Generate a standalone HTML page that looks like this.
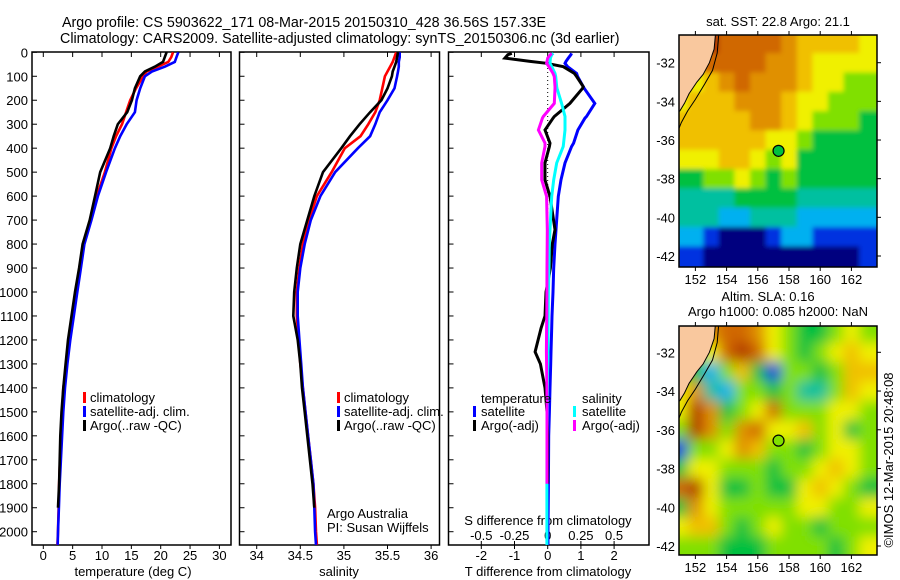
<!DOCTYPE html>
<html><head><meta charset="utf-8">
<style>
html,body{margin:0;padding:0;background:#fff;}
svg{display:block;font-family:"Liberation Sans",sans-serif;}
text{fill:#000;}
</style></head>
<body>
<svg id="chart" width="900" height="580" viewBox="0 0 900 580" xmlns="http://www.w3.org/2000/svg">
<defs>
<clipPath id="c1"><rect x="32" y="52" width="199" height="493"/></clipPath>
<clipPath id="c2"><rect x="239" y="52" width="200" height="493"/></clipPath>
<clipPath id="c3"><rect x="448" y="52" width="201" height="493"/></clipPath>
<clipPath id="cm1"><rect x="679" y="35" width="198" height="232"/></clipPath>
<clipPath id="cm2"><rect x="679" y="326" width="198" height="229"/></clipPath>
<filter id="blur" x="-10%" y="-10%" width="120%" height="120%"><feGaussianBlur stdDeviation="6.5"/></filter>
<filter id="blur2" x="-10%" y="-10%" width="120%" height="120%"><feGaussianBlur stdDeviation="2.5"/></filter>
</defs>
<text x="62" y="27" font-size="14.3">Argo profile: CS 5903622_171 08-Mar-2015 20150310_428 36.56S 157.33E</text>
<text x="60" y="43" font-size="14.3">Climatology: CARS2009. Satellite-adjusted climatology: synTS_20150306.nc (3d earlier)</text>
<g id="layer"></g>
</svg>
<script>
// ---------- data ----------
const depthTicks = [0,100,200,300,400,500,600,700,800,900,1000,1100,1200,1300,1400,1500,1600,1700,1800,1900,2000];
const tempTicks = [0,5,10,15,20,25,30];
const salTicks = [34,34.5,35,35.5,36];
const salTickLabels = ["34","34.5","35","35.5","36"];
const dTTicks = [-2,-1,0,1,2];
const dSTicks = [-0.5,-0.25,0,0.25,0.5];
const dSTickLabels = ["-0.5","-0.25","0","0.25","0.5"];

const depthClim = [0,20,40,60,80,100,150,200,250,300,350,400,500,600,700,800,900,1000,1100,1200,1300,1400,1500,1600,1700,1800,1900,2000,2055];
const tempClim = [22.1,21.8,21.3,19.5,17.6,17.0,15.8,14.8,14.1,13.4,12.4,11.6,10.5,9.1,8.0,6.8,6.2,5.6,5.0,4.4,4.0,3.4,3.2,3.0,2.85,2.7,2.6,2.5,2.4];
const tempSat = [23.0,22.7,22.4,20.7,18.5,17.3,16.5,15.9,15.6,14.2,13.1,12.2,10.7,9.3,8.2,7.0,6.4,5.8,5.2,4.6,4.1,3.7,3.4,3.2,3.0,2.8,2.65,2.5,2.45];
const tempArgo = [21.0,20.7,20.4,19.0,17.3,16.5,15.6,15.1,14.3,12.7,12.0,11.4,9.7,8.8,7.9,6.7,6.1,5.4,4.8,4.2,3.8,3.4,3.1,2.9,2.8,2.7,2.5,null,null];
const salClim = [35.6,35.58,35.56,35.53,35.5,35.47,35.44,35.41,35.36,35.28,35.19,35.01,34.86,34.69,34.6,34.53,34.49,34.46,34.46,34.48,34.5,34.53,34.56,34.59,34.62,34.65,34.67,34.68,34.69];
const salSat = [35.64,35.64,35.63,35.63,35.62,35.61,35.58,35.5,35.41,35.36,35.3,35.16,34.9,34.73,34.62,34.55,34.5,34.47,34.47,34.49,34.51,34.53,34.56,34.59,34.62,34.65,34.66,34.67,34.68];
const salArgo = [35.62,35.61,35.6,35.58,35.56,35.55,35.5,35.43,35.3,35.18,35.07,34.97,34.76,34.66,34.58,34.5,34.46,34.43,34.42,34.47,34.5,34.52,34.55,34.58,34.61,34.64,34.66,null,null];

const depthDiff = [4,10,24,38,46,60,88,101,143,150,213,268,275,324,379,393,462,532,601,740,800,900,1000,1100,1150,1250,1300,1400,1500,1600,1800,2000,2055];
const dTSat = [0.72,0.7,0.62,0.55,0.52,0.6,0.87,0.9,1.07,1.1,1.42,1.17,1.12,0.91,0.78,0.72,0.52,0.4,0.32,0.25,0.22,0.18,0.16,0.13,0.12,0.1,0.09,0.07,0.05,0.03,0.02,0.01,0.01];
const dTArgo = [-1.08,-1.2,-1.29,-0.53,-0.03,0.47,0.8,0.87,1.07,1.05,0.67,0.2,0.16,-0.08,0.07,0.05,-0.08,-0.08,0.07,0.22,0.14,0.08,-0.05,-0.08,-0.2,-0.38,-0.22,-0.08,-0.02,0,0,null,null];
const dSSat = [0.042,0.03,0.02,0.018,0.017,0.03,0.055,0.06,0.068,0.07,0.105,0.13,0.13,0.13,0.12,0.117,0.068,0.045,0.03,0.017,0.012,0.01,0.005,0.004,0.003,0.002,0.0,-0.002,-0.004,-0.005,-0.006,-0.006,-0.006];
const dSArgo = [0.03,0.02,0.0,-0.005,-0.008,0.01,0.04,0.05,0.055,0.055,0.05,-0.033,-0.04,-0.07,-0.02,-0.02,-0.045,-0.045,-0.008,-0.003,-0.004,-0.005,-0.006,-0.007,-0.008,-0.01,-0.008,-0.006,-0.005,-0.005,-0.005,null,null];

const mapLons = [151,152,153,154,155,156,157,158,159,160,161,162,163];
const mapLats = [-31,-32,-33,-34,-35,-36,-37,-38,-39,-40,-41,-42];
const sstGrid = [
 [9,9,10,9,9,9,9,8,7,7,7,7,6],
 [7,7,9,9,9,9,8,8,7,6,6,6,6],
 [6,6,7,8,9,8,8,8,7,6,6,5,5],
 [6,7,7,7,8,8,8,7,6,6,5,5,5],
 [7,7,7,7,7,8,8,7,6,5,5,5,4],
 [7,7,7,7,7,7,6,6,5,4,4,4,4],
 [6,6,6,7,7,6,5,6,4,4,4,4,4],
 [4,4,5,5,6,5,4,5,4,4,4,4,4],
 [3,3,3,3,4,4,4,4,3,3,3,3,3],
 [3,3,3,2,2,3,3,3,2,2,2,2,2],
 [2,2,1,0,0,0,1,2,2,1,1,1,1],
 [1,1,0,0,0,0,0,0,0,0,0,0,1]];
const slaGrid = [
 [5,5,8,9,9,8,6,5,4,4,5,6,5],
 [5,5,6,9,10,9,6,5,4,5,6,7,6],
 [5,4,2,5,7,4,1,5,5,4,5,7,7],
 [6,8,3,2,5,5,4,5,3,3,5,7,6],
 [6,10,8,4,5,6,9,5,5,5,6,6,5],
 [5,10,8,5,8,9,6,6,7,5,6,4,5],
 [1,5,5,6,8,7,5,5,4,5,6,6,5],
 [4,6,6,5,5,5,4,5,5,6,7,6,5],
 [9,10,6,4,4,5,4,4,6,7,6,5,4],
 [4,8,6,5,5,5,5,5,6,6,5,5,6],
 [6,7,7,5,4,5,6,5,5,4,5,5,5],
 [5,5,5,4,4,4,5,5,5,5,4,5,6]];
const lonTicks = [152,154,156,158,160,162];
const latTicks = [-32,-34,-36,-38,-40,-42];
const argoLon = 157.33, argoLat = -36.56;

// ---------- helpers ----------
const NS = "http://www.w3.org/2000/svg";
const layer = document.getElementById('layer');
function mk(tag, attrs, parent) {
  const e = document.createElementNS(NS, tag);
  for (const k in attrs) e.setAttribute(k, attrs[k]);
  (parent || layer).appendChild(e);
  return e;
}
const yD = d => 52.3 + d * 0.2397;
const xT = t => 43.3 + t * 5.87;
const xS = s => 256.7 + (s - 34) * 87.2;
const xdT = v => 547.7 + v * 33.2;
const xdS = v => 547.7 + v * 132.8;

function drawPanel(x0, w, name) {
  const g = mk('g', {});
  
  
  const r = mk('rect', {x: x0, y: 52, width: w, height: 493, fill: 'none', stroke: '#000', 'stroke-width': 1.5}, g);
  
  
  depthTicks.forEach(d => {
    mk('line', {x1: x0, x2: x0 + 5, y1: yD(d), y2: yD(d), stroke: '#000'}, g);
  });
  return g;
}
function stepLine(xs, ds, xf, color, name, clip, sw) {
  let p = '';
  let started = false;
  for (let i = 0; i < ds.length; i++) {
    if (xs[i] === null) continue;
    const x = xf(xs[i]), y = yD(ds[i]);
    p += (started ? 'L' : 'M') + x.toFixed(1) + ' ' + y.toFixed(1);
    started = true;
  }
  const e = mk('path', {d: p, fill: 'none', stroke: color, 'stroke-width': sw || 2.6, 'clip-path': 'url(#' + clip + ')'});
  
  
  return e;
}
function txt(x, y, s, size, anchor, name) {
  const e = mk('text', {x: x, y: y, 'font-size': size || 13, 'text-anchor': anchor || 'start'});
  e.textContent = s;
  
  
  return e;
}
function legendEntry(mx, tx, y, color, label, name) {
  const g = mk('g', {});
  
  
  mk('rect', {x: mx, y: y - 10, width: 3, height: 11, fill: color}, g);
  const t = mk('text', {x: tx, y: y, 'font-size': 13}, g);
  t.textContent = label;
}

// ---------- panel 1: temperature ----------
drawPanel(32, 199, 'temperature-panel');
depthTicks.forEach(d => txt(28, yD(d) + 5, String(d), 13, 'end', 'depth-tick-label'));
tempTicks.forEach(t => {
  mk('line', {x1: xT(t), x2: xT(t), y1: 545, y2: 549, stroke: '#000'});
  mk('line', {x1: xT(t), x2: xT(t), y1: 52, y2: 57, stroke: '#000'});
  txt(xT(t), 560, String(t), 13, 'middle', 'temp-tick-label');
});
txt(133, 576, 'temperature (deg C)', 13, 'middle', 'temp-axis-title');
stepLine(tempClim, depthClim, xT, '#f00', 'temp-climatology-line', 'c1');
stepLine(tempSat, depthClim, xT, '#00f', 'temp-satellite-line', 'c1');
stepLine(tempArgo, depthClim, xT, '#000', 'temp-argo-line', 'c1');
legendEntry(83, 90, 402, '#f00', 'climatology', 'legend-climatology');
legendEntry(83, 90, 416, '#00f', 'satellite-adj. clim.', 'legend-satellite');
legendEntry(83, 90, 430, '#000', 'Argo(..raw -QC)', 'legend-argo');

// ---------- panel 2: salinity ----------
drawPanel(239.5, 200, 'salinity-panel');
salTicks.forEach((s, i) => {
  mk('line', {x1: xS(s), x2: xS(s), y1: 545, y2: 549, stroke: '#000'});
  mk('line', {x1: xS(s), x2: xS(s), y1: 52, y2: 57, stroke: '#000'});
  txt(xS(s), 560, salTickLabels[i], 13, 'middle', 'sal-tick-label');
});
txt(339, 576, 'salinity', 13, 'middle', 'sal-axis-title');
stepLine(salClim, depthClim, xS, '#f00', 'sal-climatology-line', 'c2');
stepLine(salSat, depthClim, xS, '#00f', 'sal-satellite-line', 'c2');
stepLine(salArgo, depthClim, xS, '#000', 'sal-argo-line', 'c2');
legendEntry(337, 344, 402, '#f00', 'climatology', 'legend-climatology-2');
legendEntry(337, 344, 416, '#00f', 'satellite-adj. clim.', 'legend-satellite-2');
legendEntry(337, 344, 430, '#000', 'Argo(..raw -QC)', 'legend-argo-2');
txt(327, 518, 'Argo Australia', 13, 'start', 'argo-australia-label');
txt(327, 532, 'PI: Susan Wijffels', 13, 'start', 'pi-label');

// ---------- panel 3: differences ----------
drawPanel(448.5, 200.5, 'difference-panel');
dTTicks.forEach(v => {
  mk('line', {x1: xdT(v), x2: xdT(v), y1: 545, y2: 549, stroke: '#000'});
  mk('line', {x1: xdT(v), x2: xdT(v), y1: 52, y2: 57, stroke: '#000'});
  txt(xdT(v), 560, String(v), 13, 'middle', 'dT-tick-label');
});
dSTicks.forEach((v, i) => {
  mk('line', {x1: xdS(v), x2: xdS(v), y1: 545, y2: 541, stroke: '#000'});
  txt(xdS(v), 540, dSTickLabels[i], 13, 'middle', 'dS-tick-label');
});
txt(548, 525, 'S difference from climatology', 13, 'middle', 'dS-axis-title');
txt(548, 576, 'T difference from climatology', 13, 'middle', 'dT-axis-title');
const zl = mk('line', {x1: xdT(0), x2: xdT(0), y1: 52, y2: 545, stroke: '#000', 'stroke-dasharray': '1 3'});


stepLine(dTSat, depthDiff, xdT, '#00f', 'dT-satellite-line', 'c3', 3);
stepLine(dTArgo, depthDiff, xdT, '#000', 'dT-argo-line', 'c3', 3);
stepLine(dSSat, depthDiff, xdS, '#0ff', 'dS-satellite-line', 'c3', 3);
stepLine(dSArgo, depthDiff, xdS, '#f0f', 'dS-argo-line', 'c3', 3);
txt(481, 403, 'temperature', 13, 'start', 'legend-temperature-header');
legendEntry(473, 481, 416, '#00f', 'satellite', 'legend-t-satellite');
legendEntry(473, 481, 430, '#000', 'Argo(-adj)', 'legend-t-argo');
txt(582, 403, 'salinity', 13, 'start', 'legend-salinity-header');
legendEntry(573, 582, 416, '#0ff', 'satellite', 'legend-s-satellite');
legendEntry(573, 582, 430, '#f0f', 'Argo(-adj)', 'legend-s-argo');

// ---------- maps ----------
const palette = ['#00007f','#0030e0','#00b0f0','#00c0a0','#00c040','#80e000','#f0f000','#f0c000','#e09000','#d06800','#b03800'];
function drawMap(top, bottom, grid, clip, name, filt) {
  const x0 = 679, x1 = 877;
  const lonMin = 150.95, lonMax = 163.64;
  const latScale = (top === 35) ? 19.33 : 19.37;
  const lat0y = (top === 35) ? 62.7 : 352.3;
  const xL = lon => x0 + (lon - lonMin) * (x1 - x0) / (lonMax - lonMin);
  const yL = lat => lat0y + (-32 - lat) * latScale;
  const g = mk('g', {'clip-path': 'url(#' + clip + ')'});
  
  
  const cells = mk('g', {filter: 'url(#' + filt + ')'}, g);
  const nr = mapLats.length, nc = mapLons.length;
  mapLats.forEach((lat, r) => mapLons.forEach((lon, c) => {
    const la = lon - 0.5 - (c === 0 ? 1.5 : 0);
    const lb = lon + 0.5 + (c === nc - 1 ? 1.5 : 0);
    const ta = lat + 0.5 + (r === 0 ? 1.5 : 0);
    const tb = lat - 0.5 - (r === nr - 1 ? 1.5 : 0);
    mk('rect', {x: xL(la), y: yL(ta), width: xL(lb) - xL(la) + 0.5, height: yL(tb) - yL(ta) + 0.5, fill: palette[grid[r][c]]}, cells);
  }));
  const land = [[150.5,-30.0],[153.35,-30.0],[153.2,-31.3],[152.9,-32.0],[152.5,-32.6],[152.1,-33.0],[151.6,-33.6],[151.3,-34.1],[151.0,-34.5],[150.5,-34.7]];
  const lp = mk('path', {d: 'M' + land.map(p => xL(p[0]).toFixed(1) + ' ' + yL(p[1]).toFixed(1)).join('L') + 'Z', fill: '#f9c89e', stroke: '#000', 'stroke-width': 1}, g);
  
  
  const iso = [[153.5,-30.5],[153.4,-31.5],[153.1,-32.4],[152.6,-33.1],[152.0,-33.9],[151.5,-34.5],[151.1,-35.1],[150.95,-35.4]];
  mk('path', {d: 'M' + iso.map(p => xL(p[0]).toFixed(1) + ' ' + yL(p[1]).toFixed(1)).join('L'), fill: 'none', stroke: '#000', 'stroke-width': 1}, g);
  const dot = mk('circle', {cx: xL(argoLon), cy: yL(argoLat), r: 5.5, fill: palette[filt === 'blur' ? 5 : 4], stroke: '#000', 'stroke-width': 1.2});
  
  
  const fr = mk('rect', {x: x0, y: top, width: x1 - x0, height: bottom - top, fill: 'none', stroke: '#000', 'stroke-width': 1.5});
  
  
  lonTicks.forEach(lon => {
    mk('line', {x1: xL(lon), x2: xL(lon), y1: top, y2: top - 4, stroke: '#000'});
    mk('line', {x1: xL(lon), x2: xL(lon), y1: bottom, y2: bottom + 4, stroke: '#000'});
    txt(xL(lon), bottom + 17, String(lon), 13, 'middle', 'lon-tick-label');
  });
  latTicks.forEach(lat => {
    mk('line', {x1: x1, x2: x1 + 4, y1: yL(lat), y2: yL(lat), stroke: '#000'});
    txt(675, yL(lat) + 5, String(lat), 13, 'end', 'lat-tick-label');
  });
}
drawMap(35, 267, sstGrid, 'cm1', 'sst-map', 'blur2');
drawMap(326, 555, slaGrid, 'cm2', 'sla-map', 'blur');
txt(778, 26, 'sat. SST: 22.8 Argo: 21.1', 13, 'middle', 'sst-map-title');
txt(768, 301, 'Altim. SLA: 0.16', 13, 'middle', 'sla-map-title');
txt(778, 316, 'Argo h1000: 0.085 h2000: NaN', 13, 'middle', 'sla-map-subtitle');
const cr = txt(0, 0, '\u00A9IMOS 12-Mar-2015 20:48:08', 13, 'middle', 'copyright-label');
cr.setAttribute('transform', 'translate(893,460) rotate(-90)');
</script>
</body></html>
